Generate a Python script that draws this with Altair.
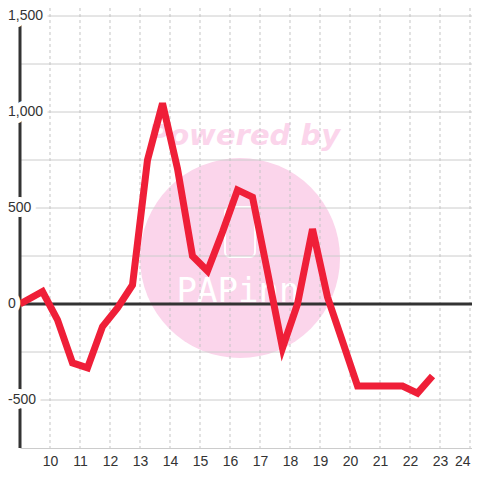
import altair as alt
import pandas as pd

# ---- data ----
hours = [9.0, 9.75, 10.25, 10.75, 11.25, 11.75, 12.25, 12.75, 13.25, 13.75,
         14.25, 14.75, 15.25, 15.75, 16.25, 16.75, 17.25, 17.75, 18.25, 18.75,
         19.25, 19.75, 20.25, 20.75, 21.25, 21.75, 22.25, 22.75]
values = [0, 65, -83, -307, -333, -118, -21, 99, 750, 1045,
          705, 250, 172, 375, 594, 557, 167, -229, 0, 390,
          36, -195, -427, -427, -427, -427, -464, -375]

x_ticks = list(range(10, 25))
y_tick_values = [-500, 0, 500, 1000, 1500]
y_tick_labels = ["-500", "0", "500", "1,000", "1,500"]
y_grid = [-500, -250, 250, 500, 750, 1000, 1250, 1500]
zero_line = [0]
y_axis_line = {"x": [9.0], "y1": [-750], "y2": [1458]}

X_DOMAIN = [9.0, 24.0667]
Y_DOMAIN = [-750, 1541.67]

xs = alt.Scale(domain=X_DOMAIN, nice=False, zero=False)
ys = alt.Scale(domain=Y_DOMAIN, nice=False, zero=False)

df = pd.DataFrame({"hour": hours, "value": values})
one = pd.DataFrame({"a": [0]})

PINK = "#fbd5eb"
DARK = "#333333"
GRID = "#cccccc"
FONT = "Liberation Sans"

x_axis = alt.Axis(values=x_ticks, grid=False, ticks=False, tickSize=0,
                  domainColor=GRID, domainWidth=1, labelFontSize=14,
                  labelColor=DARK, labelFont=FONT, labelPadding=13,
                  labelBaseline="middle", format="d", labelFlush=3,
                  labelOverlap=False, title=None)

# ---- watermark (decoration) ----
wm_circle = alt.Chart(one).mark_circle(size=40000, color=PINK, opacity=1).encode(
    x=alt.value(220), y=alt.value(250))
wm_icon = alt.Chart(one).mark_rect(filled=False, stroke="white", strokeWidth=2,
                                   cornerRadius=5).encode(
    x=alt.value(205), x2=alt.value(235), y=alt.value(199), y2=alt.value(249))
wm_logo = alt.Chart(pd.DataFrame({"t": ["PAPinn"]})).mark_text(
    font="DejaVu Sans Mono", fontSize=34, color="white", align="center",
    baseline="alphabetic").encode(x=alt.value(218), y=alt.value(294), text="t:N")
wm_text = alt.Chart(pd.DataFrame({"t": ["Powered by"]})).mark_text(
    font="DejaVu Sans", fontSize=29, fontWeight="bold", fontStyle="italic",
    color=PINK, align="center", baseline="alphabetic").encode(
    x=alt.value(224), y=alt.value(137), text="t:N")

# ---- grid ----
hgrid = alt.Chart(pd.DataFrame({"v": y_grid})).mark_rule(
    color=GRID, strokeWidth=1).encode(y=alt.Y("v:Q", scale=ys, axis=None))
vgrid = alt.Chart(pd.DataFrame({"h": x_ticks})).mark_rule(
    color="#c4c4c4", strokeWidth=1, strokeDash=[3, 3]).encode(
    x=alt.X("h:Q", scale=xs, axis=x_axis))

zero = alt.Chart(pd.DataFrame({"z": zero_line})).mark_rule(
    color=DARK, strokeWidth=3).encode(y=alt.Y("z:Q", scale=ys, axis=None))

yline = alt.Chart(pd.DataFrame(y_axis_line)).mark_rule(
    color=DARK, strokeWidth=3).encode(
    x=alt.X("x:Q", scale=xs, axis=x_axis),
    y=alt.Y("y1:Q", scale=ys, axis=None), y2="y2:Q")

# ---- data line ----
line = alt.Chart(df).mark_line(color="#ef1f38", strokeWidth=7,
                               strokeJoin="miter").encode(
    x=alt.X("hour:Q", scale=xs, axis=x_axis),
    y=alt.Y("value:Q", scale=ys, axis=None),
    order="hour:Q")

# ---- y labels with white backing ----
ylab_df = pd.DataFrame({"v": y_tick_values, "label": y_tick_labels})
ylab_bg = alt.Chart(ylab_df).mark_text(
    align="left", baseline="middle", fontSize=14, font=FONT,
    color="white", stroke="white", strokeWidth=10, strokeJoin="round").encode(
    x=alt.value(-12), y=alt.Y("v:Q", scale=ys, axis=None), text="label:N")
ylab = alt.Chart(ylab_df).mark_text(
    align="left", baseline="middle", fontSize=14, font=FONT, color=DARK).encode(
    x=alt.value(-12), y=alt.Y("v:Q", scale=ys, axis=None), text="label:N")

chart = alt.layer(
    wm_circle, wm_icon, wm_logo, wm_text,
    hgrid, vgrid, zero, yline, line, ylab_bg, ylab
).properties(
    width=452, height=440,
    autosize=alt.AutoSizeParams(type="none"),
    padding={"left": 12, "top": 0, "right": 0, "bottom": 20},
    background="white",
).configure_view(stroke=None)

chart.save("out.html", embed_options={"renderer": "svg", "actions": False})
